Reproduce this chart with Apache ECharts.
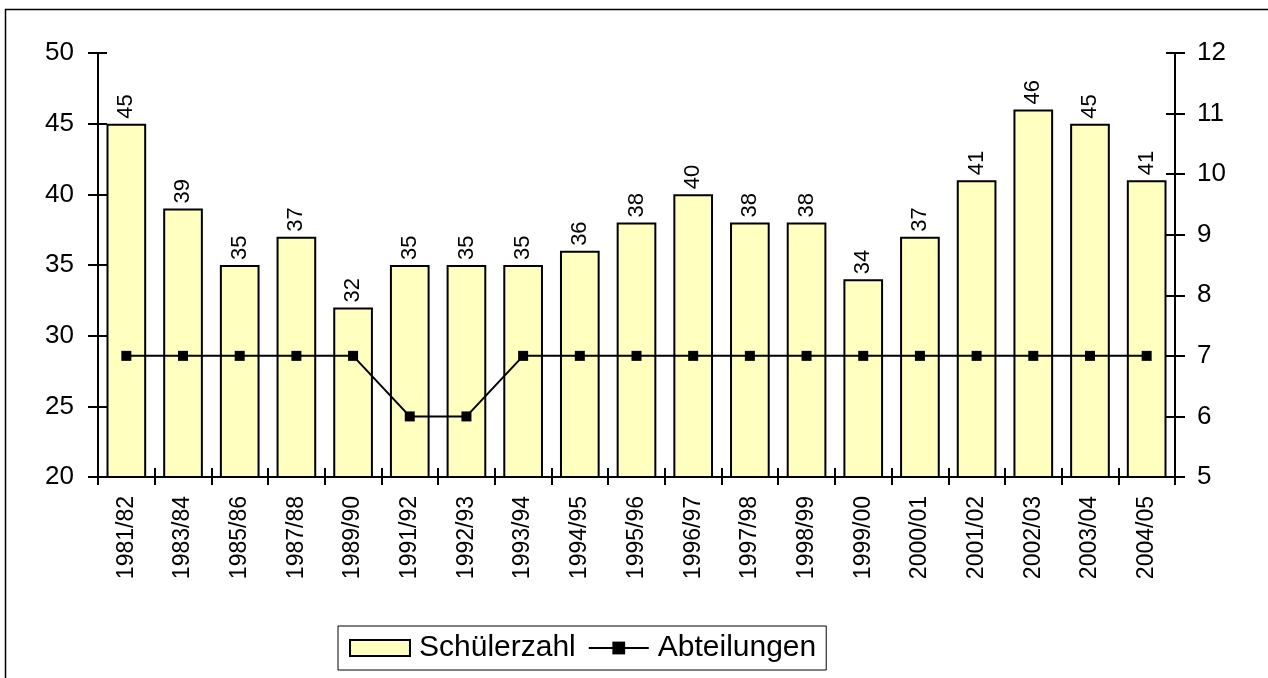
<!DOCTYPE html>
<html>
<head>
<meta charset="utf-8">
<script src="https://cdn.jsdelivr.net/npm/echarts@6/dist/echarts.min.js"></script>
<style>
  html, body { margin: 0; padding: 0; background: #fff; }
  #chart { width: 1268px; height: 678px; }
</style>
</head>
<body>
<div id="chart"></div>
<script>
// Schuljahre
const years = ['1981/82', '1983/84', '1985/86', '1987/88', '1989/90', '1991/92', '1992/93',
  '1993/94', '1994/95', '1995/96', '1996/97', '1997/98', '1998/99', '1999/00', '2000/01',
  '2001/02', '2002/03', '2003/04', '2004/05'];
const schuelerzahl = [45, 39, 35, 37, 32, 35, 35, 35, 36, 38, 40, 38, 38, 34, 37, 41, 46, 45, 41];
const abteilungen = [7, 7, 7, 7, 7, 6, 6, 7, 7, 7, 7, 7, 7, 7, 7, 7, 7, 7, 7];

const font = 'Liberation Sans, Arial, sans-serif';
const black = { color: '#000', width: 2 };
const chart = echarts.init(document.getElementById('chart'));

// zweite Achse nur fuer die nach innen zeigenden Striche (Kreuz-Ticks wie in Excel)
const innerTicks = { show: true, inside: true, length: 9, lineStyle: black };

chart.setOption({
  animation: false,
  textStyle: { fontFamily: font, color: '#000' },
  graphic: [{
    type: 'rect',
    shape: { x: 5.5, y: 9.5, width: 1300, height: 700 },
    style: { fill: 'none', stroke: '#000', lineWidth: 1.5 },
    silent: true
  }],
  grid: { left: 98, right: 93, top: 53, bottom: 201, containLabel: false },
  legend: {
    top: 626,
    left: 338,
    padding: [7, 10, 7, 11],
    borderColor: '#000',
    borderWidth: 1,
    itemGap: 12,
    itemWidth: 60,
    itemHeight: 16,
    textStyle: { fontSize: 30, color: '#000', fontFamily: font, padding: [0, 0, 0, 4] },
    data: [
      { name: 'Schülerzahl', icon: 'rect', itemStyle: { color: '#FFFFC0', borderColor: '#000', borderWidth: 2 } },
      { name: 'Abteilungen' }
    ]
  },
  xAxis: [{
    type: 'category',
    data: years,
    axisLine: { lineStyle: black },
    axisTick: { show: true, length: 8, lineStyle: black },
    axisLabel: { rotate: 90, fontSize: 23, color: '#000', margin: 19 }
  }, {
    type: 'category',
    data: years,
    position: 'bottom',
    axisLine: { show: false },
    axisTick: innerTicks,
    axisLabel: { show: false }
  }],
  yAxis: [{
    type: 'value',
    min: 20, max: 50, interval: 5,
    splitLine: { show: false },
    axisLine: { show: true, lineStyle: black },
    axisTick: { show: true, length: 10, lineStyle: black },
    axisLabel: { fontSize: 26, color: '#000', margin: 24 }
  }, {
    type: 'value',
    min: 5, max: 12, interval: 1,
    splitLine: { show: false },
    axisLine: { show: true, lineStyle: black },
    axisTick: { show: true, length: 10, lineStyle: black },
    axisLabel: { fontSize: 26, color: '#000', margin: 22 }
  }, {
    type: 'value',
    min: 20, max: 50, interval: 5,
    position: 'left',
    splitLine: { show: false },
    axisLine: { show: false },
    axisTick: innerTicks,
    axisLabel: { show: false }
  }, {
    type: 'value',
    min: 5, max: 12, interval: 1,
    position: 'right',
    splitLine: { show: false },
    axisLine: { show: false },
    axisTick: innerTicks,
    axisLabel: { show: false }
  }],
  series: [{
    name: 'Schülerzahl',
    type: 'bar',
    data: schuelerzahl,
    barCategoryGap: '30%',
    itemStyle: { color: '#FFFFC0', borderColor: '#000', borderWidth: 2 },
    label: {
      show: true,
      position: 'top',
      rotate: 90,
      align: 'left',
      verticalAlign: 'middle',
      distance: 5,
      fontSize: 22,
      color: '#000'
    }
  }, {
    name: 'Abteilungen',
    type: 'line',
    yAxisIndex: 1,
    data: abteilungen,
    symbol: 'rect',
    symbolSize: 10,
    lineStyle: { color: '#000', width: 2 },
    itemStyle: { color: '#000' }
  }]
});
</script>
</body>
</html>
